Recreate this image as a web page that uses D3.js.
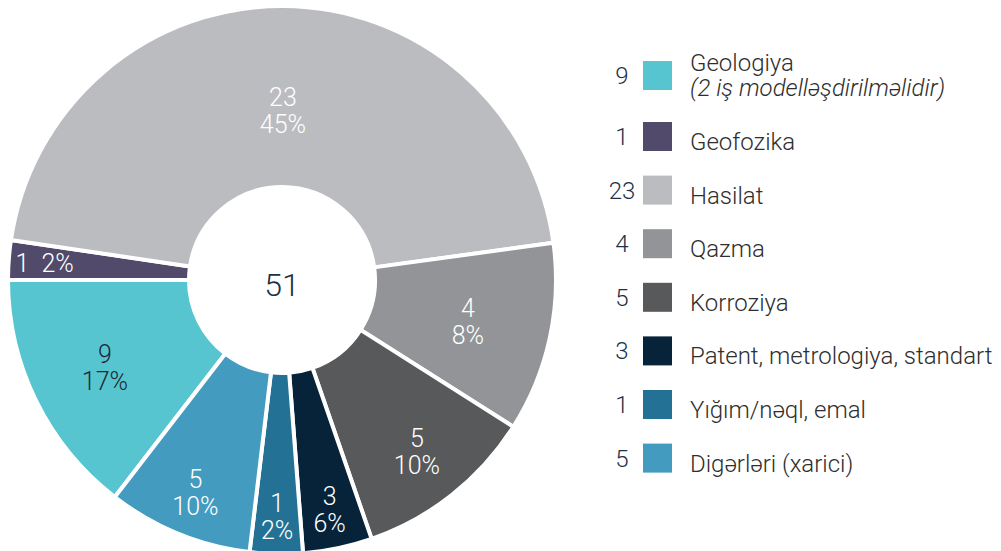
<!DOCTYPE html>
<html>

<head>
    <meta charset="utf-8">
    <style>
        body {
            margin: 0;
            background: #fff;
        }

        svg {
            display: block;
            font-family: Roboto, 'Liberation Sans', sans-serif;
            font-weight: 300;
        }

        .slice-label {
            font-size: 25px;
            text-anchor: middle;
        }

        .total {
            font-size: 32px;
            fill: #1d3148;
            text-anchor: middle;
        }

        .legend-num {
            font-size: 24px;
            fill: #1d3148;
            text-anchor: middle;
        }

        .legend-text {
            font-size: 24px;
            fill: #2e2e2e;
        }

        .legend-note {
            font-style: italic;
        }
    </style>
</head>

<body>
    <svg width="1001" height="551"></svg>

<script src="https://d3js.org/d3.v7.min.js"></script>

<script>
    // categories in legend order (also clockwise order of the ring)
    let categories = [
        "Geologiya",
        "Geofozika",
        "Hasilat",
        "Qazma",
        "Korroziya",
        "Patent, metrologiya, standart",
        "Yığım/nəql, emal",
        "Digərləri (xarici)"]

    let notes = ["(2 iş modelləşdirilmәlidir)", "", "", "", "", "", "", ""]

    let counts = [9, 1, 23, 4, 5, 3, 1, 5]

    let percents = ["17%", "2%", "45%", "8%", "10%", "6%", "2%", "10%"]

    // angular size of each slice (degrees) as it is drawn in the original
    let drawnShare = [52.4, 8.4, 163.8, 40.2, 38.5, 14.7, 11.2, 30.8]

    let total = 51

    let colors = [
        "#57c5cf", // Geologiya
        "#514a6a", // Geofozika
        "#bbbcc0", // Hasilat
        "#939498", // Qazma
        "#58595b", // Korroziya
        "#062339", // Patent
        "#237296", // Yığım
        "#449bc0"  // Digərləri
    ]

    let labelColors = ["#1c2a36", "#fff", "#fff", "#fff", "#fff", "#fff", "#fff", "#fff"]

    let svg = d3.select("svg")

    let cx = 282, cy = 280
    let outerR = 274, innerR = 93

    let data = categories.map((c, i) => ({
        name: c, note: notes[i], count: counts[i], pct: percents[i],
        share: drawnShare[i], color: colors[i], labelColor: labelColors[i]
    }))

    let rad = Math.PI / 180
    let start = (270 - drawnShare[0]) * rad

    let pie = d3.pie()
        .sort(null)
        .value(d => d.share)
        .startAngle(start)
        .endAngle(start + 2 * Math.PI)

    let arc = d3.arc()
        .innerRadius(innerR)
        .outerRadius(outerR)

    let arcs = pie(data)

    let ring = svg.append("g")
        .attr("transform", `translate(${cx},${cy})`)

    ring.selectAll("path")
        .data(arcs)
        .join("path")
        .attr("d", arc)
        .attr("fill", d => d.data.color)
        .attr("stroke", "#fff")
        .attr("stroke-width", 4)
        .attr("stroke-linejoin", "miter")

    // labels sit a bit further out toward the bottom of the ring
    function labelRadius(a) {
        let c = Math.cos(a)
        return 188 + 48 * Math.pow(Math.max(0, -c), 2) - 18 * Math.pow(Math.max(0, c), 3)
    }

    arcs.forEach(d => {
        let mid = (d.startAngle + d.endAngle) / 2
        let span = d.endAngle - d.startAngle
        let inline = span < 10 * rad && Math.abs(Math.sin(mid)) > 0.95
        let r = inline ? 238 : labelRadius(mid)
        let x = Math.sin(mid) * r
        let y = -Math.cos(mid) * r

        let t = ring.append("text")
            .attr("class", "slice-label")
            .attr("fill", d.data.labelColor)
            .attr("x", x)

        if (inline) {
            t.attr("y", y + 9).text(d.data.count + "  " + d.data.pct)
                .attr("xml:space", "preserve")
        } else {
            t.attr("y", y - 4).text(d.data.count)
            ring.append("text")
                .attr("class", "slice-label")
                .attr("fill", d.data.labelColor)
                .attr("x", x)
                .attr("y", y + 23)
                .text(d.data.pct)
        }
    })

    ring.append("text")
        .attr("class", "total")
        .attr("y", 16)
        .text(total)

    // legend
    let legend = svg.append("g")
    let rowTop = 61
    data.forEach(d => {
        let row = legend.append("g").attr("transform", `translate(0,${rowTop})`)

        row.append("rect")
            .attr("x", 643)
            .attr("width", 29)
            .attr("height", 29)
            .attr("fill", d.color)

        row.append("text")
            .attr("class", "legend-num")
            .attr("x", 622)
            .attr("y", 23)
            .text(d.count)

        if (d.note) {
            row.append("text")
                .attr("class", "legend-text")
                .attr("x", 690)
                .attr("y", 10)
                .text(d.name)
            row.append("text")
                .attr("class", "legend-text legend-note")
                .attr("x", 690)
                .attr("y", 35)
                .text(d.note)
            rowTop += 61
        } else {
            row.append("text")
                .attr("class", "legend-text")
                .attr("x", 690)
                .attr("y", 28)
                .text(d.name)
            rowTop += 53.6
        }
    })
</script>
</body>

</html>
